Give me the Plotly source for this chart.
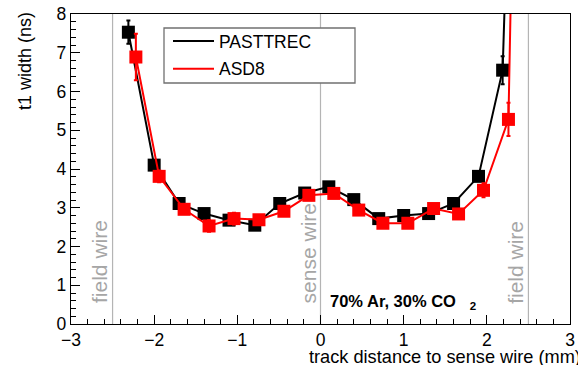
import plotly.graph_objects as go

# ---- data ----
pasttrec_x = [-2.31, -2.0, -1.70, -1.40, -1.10, -0.79, -0.49, -0.19, 0.10, 0.40, 0.70, 1.0, 1.30, 1.60, 1.90, 2.19, 2.50]
pasttrec_y = [7.53, 4.10, 3.11, 2.85, 2.68, 2.55, 3.11, 3.38, 3.54, 3.21, 2.72, 2.80, 2.85, 3.11, 3.81, 6.55, 28.0]
pasttrec_err = [0.30, 0.12, 0.10, 0.10, 0.10, 0.10, 0.10, 0.10, 0.10, 0.10, 0.10, 0.10, 0.10, 0.10, 0.12, 0.36, 1.0]

asd8_x = [-2.22, -1.94, -1.64, -1.34, -1.04, -0.74, -0.44, -0.14, 0.16, 0.46, 0.75, 1.05, 1.36, 1.66, 1.96, 2.26, 2.56]
asd8_y = [6.89, 3.81, 2.96, 2.53, 2.72, 2.69, 2.91, 3.32, 3.37, 2.94, 2.60, 2.60, 2.98, 2.84, 3.45, 5.28, 39.0]
asd8_err = [0.60, 0.15, 0.10, 0.15, 0.15, 0.10, 0.10, 0.12, 0.10, 0.10, 0.10, 0.10, 0.10, 0.10, 0.18, 0.43, 1.0]

wire_x = [-2.5, 0.0, 2.5]
wire_labels = ["field wire", "sense wire", "field wire"]

FONT = "Liberation Sans, Arial, sans-serif"

fig = go.Figure()

for name, xs, ys, es, col in [
    ("PASTTREC", pasttrec_x, pasttrec_y, pasttrec_err, "black"),
    ("ASD8", asd8_x, asd8_y, asd8_err, "#ff0000"),
]:
    fig.add_trace(go.Scatter(
        x=xs, y=ys, mode="lines+markers", name=name,
        line=dict(color=col, width=2),
        marker=dict(symbol="square", size=13, color=col),
        error_y=dict(type="data", array=es, color=col, thickness=2, width=2),
        showlegend=False,
    ))
    # legend entry (line only)
    fig.add_trace(go.Scatter(
        x=[None], y=[None], mode="lines", name=name,
        line=dict(color=col, width=2), showlegend=True, legendgroup=name,
    ))

# wire lines
for wx in wire_x:
    fig.add_shape(type="line", xref="x", yref="paper", x0=wx, x1=wx, y0=0, y1=1,
                  line=dict(color="#b4b4b4", width=1.2), layer="below")

# wire labels
for wx, lab in zip(wire_x, wire_labels):
    fig.add_annotation(x=wx, y=0.06, xref="x", yref="paper", text=lab, showarrow=False,
                       textangle=-90, xanchor="right", yanchor="bottom", xshift=1,
                       font=dict(family=FONT, size=21, color="#a6a6a6"))

# legend box
fig.add_shape(type="rect", xref="paper", yref="paper",
              x0=(164 - 71) / 499, x1=(355 - 71) / 499,
              y0=(324 - 83) / 310, y1=(324 - 28) / 310,
              fillcolor="white", line=dict(color="#707070", width=1.3), layer="above")

# gas label
fig.add_annotation(x=0.096, y=0.033, xref="x", yref="paper",
                   text="<b>70% Ar, 30% CO&nbsp;&nbsp;&nbsp;<sub>2</sub></b>", showarrow=False,
                   xanchor="left", yanchor="bottom",
                   font=dict(family=FONT, size=16.5, color="black"))

# axis titles
fig.add_annotation(x=(25 - 71) / 499, y=(324 - 10) / 310, xref="paper", yref="paper",
                   text="t1 width (ns)", showarrow=False, textangle=-90,
                   xanchor="center", yanchor="top",
                   font=dict(family=FONT, size=18, color="black"))
fig.add_annotation(x=(306.5 - 71) / 499, y=(324 - 357) / 310, xref="paper", yref="paper",
                   text="track distance to sense wire (mm)", showarrow=False,
                   xanchor="left", yanchor="middle",
                   font=dict(family=FONT, size=18.2, color="black"))

axis_common = dict(
    showgrid=False, zeroline=False, showline=True, linecolor="black", linewidth=1.3,
    mirror=True, ticks="inside", ticklen=9, tickwidth=1.3, tickcolor="black",
    tickfont=dict(family=FONT, size=17.5, color="black"), automargin=False,
)

fig.update_xaxes(range=[-3, 3], dtick=1, tick0=0,
                 minor=dict(ticks="inside", dtick=0.2, ticklen=4.5, tickwidth=1.2, tickcolor="black"),
                 **axis_common)
fig.update_yaxes(range=[0, 8], dtick=1, tick0=0,
                 minor=dict(ticks="inside", dtick=0.2, ticklen=4.5, tickwidth=1.2, tickcolor="black"),
                 **axis_common)

fig.update_layout(
    width=578, height=365,
    margin=dict(l=71, r=8, t=14, b=41, autoexpand=False),
    paper_bgcolor="white", plot_bgcolor="white",
    font=dict(family=FONT, color="black"),
    legend=dict(x=(168 - 71) / 499, y=(324 - 23) / 310, xanchor="left", yanchor="top",
                bgcolor="rgba(0,0,0,0)", borderwidth=0, itemwidth=41, tracegroupgap=2,
                font=dict(family=FONT, size=17.5, color="black")),
)

fig.write_html("out.html")
